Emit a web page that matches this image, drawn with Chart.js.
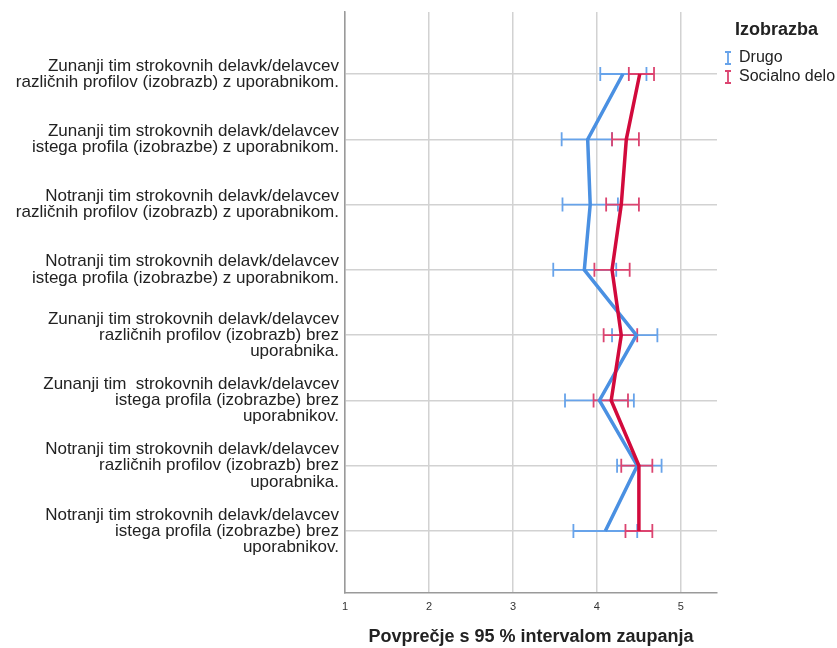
<!DOCTYPE html>
<html>
<head>
<meta charset="utf-8">
<script src="https://cdn.jsdelivr.net/npm/chart.js@4/dist/chart.umd.min.js"></script>
<style>
  html, body { margin: 0; padding: 0; background: #fff; }
  #wrap { width: 837px; height: 648px; }
</style>
</head>
<body>
<div id="wrap"><canvas id="chart" width="837" height="648"></canvas></div>
<script>
const categories = [
    ['Zunanji tim strokovnih delavk/delavcev', 'različnih profilov (izobrazb) z uporabnikom.'],
    ['Zunanji tim strokovnih delavk/delavcev', 'istega profila (izobrazbe) z uporabnikom.'],
    ['Notranji tim strokovnih delavk/delavcev', 'različnih profilov (izobrazb) z uporabnikom.'],
    ['Notranji tim strokovnih delavk/delavcev', 'istega profila (izobrazbe) z uporabnikom.'],
    ['Zunanji tim strokovnih delavk/delavcev', 'različnih profilov (izobrazb) brez', 'uporabnika.'],
    ['Zunanji tim  strokovnih delavk/delavcev', 'istega profila (izobrazbe) brez', 'uporabnikov.'],
    ['Notranji tim strokovnih delavk/delavcev', 'različnih profilov (izobrazb) brez', 'uporabnika.'],
    ['Notranji tim strokovnih delavk/delavcev', 'istega profila (izobrazbe) brez', 'uporabnikov.']
];
const xTicks = [1, 2, 3, 4, 5];

const drugoMean = [4.31, 3.89, 3.92, 3.85, 4.47, 4.03, 4.48, 4.10];
const drugoLow  = [4.04, 3.58, 3.59, 3.48, 4.18, 3.62, 4.24, 3.72];
const drugoHigh = [4.59, 4.18, 4.25, 4.23, 4.72, 4.44, 4.77, 4.48];

const socMean = [4.51, 4.35, 4.29, 4.18, 4.29, 4.17, 4.50, 4.50];
const socLow  = [4.38, 4.18, 4.11, 3.97, 4.08, 3.96, 4.29, 4.34];
const socHigh = [4.68, 4.50, 4.50, 4.39, 4.48, 4.37, 4.66, 4.66];

const FONT = "'Liberation Sans', Arial, sans-serif";

function toPoints(means) {
    return means.map((m, i) => ({ x: m, y: i + 1 }));
}

// error bars with caps, drawn through the chart scales
const errorBars = {
    id: 'errorBars',
    beforeDatasetsDraw(chart) {
        const ctx = chart.ctx;
        const xs = chart.scales.x, ys = chart.scales.y;
        chart.data.datasets.forEach(ds => {
            ctx.save();
            ctx.strokeStyle = ds.errorColor;
            ctx.lineWidth = 1.8;
            ds.low.forEach((lo, i) => {
                const y = ys.getPixelForValue(i + 1);
                const x1 = xs.getPixelForValue(lo);
                const x2 = xs.getPixelForValue(ds.high[i]);
                ctx.beginPath();
                ctx.moveTo(x1, y); ctx.lineTo(x2, y);
                ctx.moveTo(x1, y - 7); ctx.lineTo(x1, y + 7);
                ctx.moveTo(x2, y - 7); ctx.lineTo(x2, y + 7);
                ctx.stroke();
            });
            ctx.restore();
        });
    }
};

// legend on the right, with I-beam markers
const sideLegend = {
    id: 'sideLegend',
    afterDraw(chart) {
        const ctx = chart.ctx;
        ctx.save();
        ctx.textBaseline = 'middle';
        ctx.textAlign = 'left';
        ctx.fillStyle = '#222';
        ctx.font = 'bold 18px ' + FONT;
        ctx.fillText('Izobrazba', 735, 30);
        ctx.font = '16px ' + FONT;
        chart.data.datasets.forEach((ds, i) => {
            const y = 58 + i * 19;
            ctx.strokeStyle = ds.errorColor;
            ctx.lineWidth = 1.8;
            ctx.beginPath();
            ctx.moveTo(728, y - 6); ctx.lineTo(728, y + 6);
            ctx.moveTo(725, y - 6); ctx.lineTo(731, y - 6);
            ctx.moveTo(725, y + 6); ctx.lineTo(731, y + 6);
            ctx.stroke();
            ctx.fillStyle = '#222';
            ctx.fillText(ds.label, 739, y);
        });
        ctx.restore();
    }
};

new Chart(document.getElementById('chart').getContext('2d'), {
    type: 'scatter',
    data: {
        datasets: [{
            label: 'Drugo',
            data: toPoints(drugoMean),
            low: drugoLow,
            high: drugoHigh,
            showLine: true,
            borderColor: '#4a90e2',
            errorColor: '#67a3ea',
            borderWidth: 3.5,
            pointRadius: 0,
            order: 1
        }, {
            label: 'Socialno delo',
            data: toPoints(socMean),
            low: socLow,
            high: socHigh,
            showLine: true,
            borderColor: '#d20a3c',
            errorColor: '#dc4470',
            borderWidth: 3.5,
            pointRadius: 0,
            order: 0
        }]
    },
    options: {
        responsive: false,
        animation: false,
        layout: { padding: { top: 12, right: 120, left: 0, bottom: 0 } },
        plugins: {
            legend: { display: false },
            tooltip: { enabled: false }
        },
        scales: {
            x: {
                type: 'linear',
                min: 1,
                max: 5.43,
                afterBuildTicks: scale => { scale.ticks = xTicks.map(v => ({ value: v })); },
                afterFit: scale => { scale.height = 55; },
                grid: { color: '#d2d2d2', lineWidth: 1.5, drawTicks: false },
                border: { color: '#9a9a9a', width: 1.5 },
                ticks: { font: { family: FONT, size: 11 }, color: '#333', padding: 7 },
                title: {
                    display: true,
                    text: 'Povprečje s 95 % intervalom zaupanja',
                    font: { family: FONT, size: 18, weight: 'bold' },
                    color: '#222',
                    padding: { top: 4, bottom: 0 }
                }
            },
            y: {
                type: 'linear',
                reverse: true,
                min: 0.05,
                max: 8.95,
                afterBuildTicks: scale => { scale.ticks = categories.map((c, i) => ({ value: i + 1 })); },
                afterFit: scale => {
                    scale.width = 345;
                    scale.paddingTop = 0;
                    scale.paddingBottom = 0;
                },
                grid: { color: '#d2d2d2', lineWidth: 1.5, drawTicks: false },
                border: { color: '#9a9a9a', width: 1.5 },
                ticks: {
                    autoSkip: false,
                    padding: 6,
                    color: '#222',
                    font: { family: FONT, size: 17, lineHeight: 0.95 },
                    callback: value => categories[value - 1]
                }
            }
        }
    },
    plugins: [errorBars, sideLegend]
});
</script>
</body>
</html>
